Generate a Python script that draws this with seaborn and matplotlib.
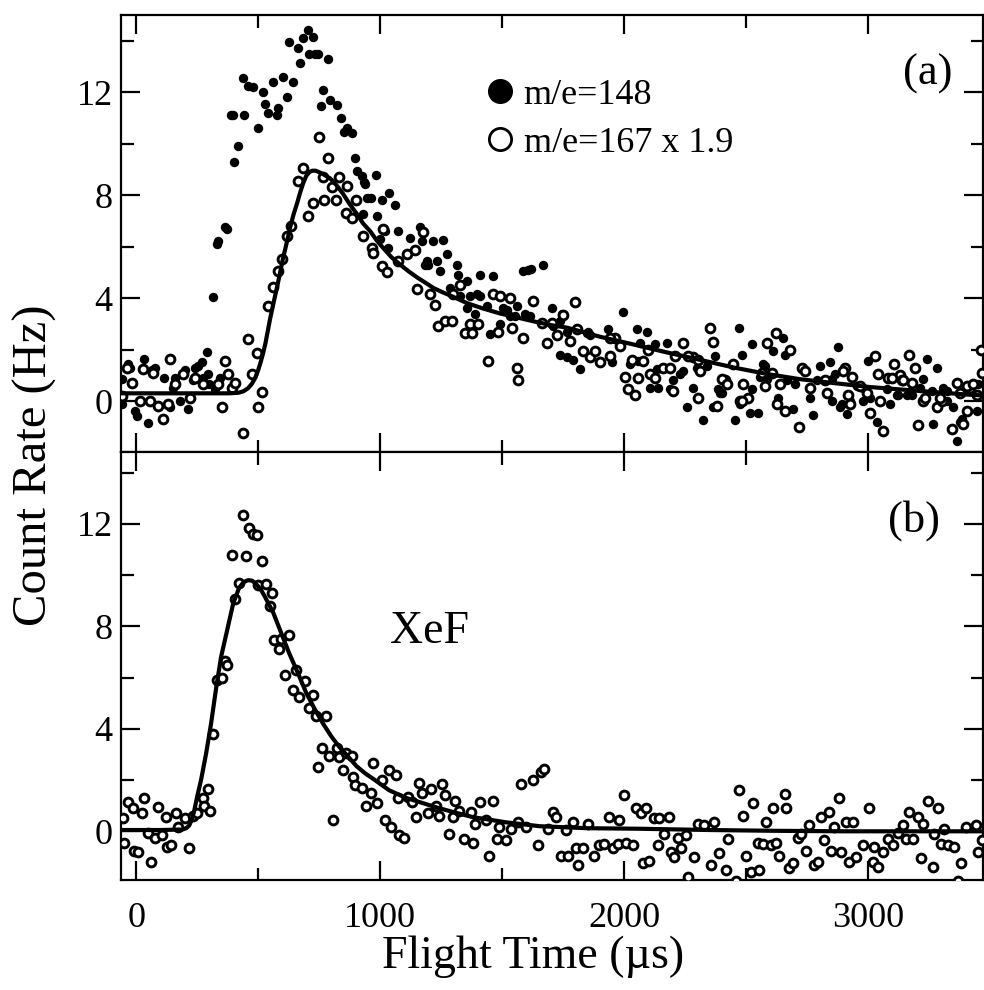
"""
Two-panel flight time spectra (XeF photodissociation), redrawn with seaborn.
"""

import matplotlib
matplotlib.use("Agg")
import matplotlib.pyplot as plt
from matplotlib.lines import Line2D
from matplotlib.ticker import MultipleLocator
import seaborn as sns

# ---- panel (a): m/e=148, filled points ----
a_filled_x = [-58, -57, -33, -25, -4, 4, 33, 49, 66, 78,
              115, 139, 152, 160, 180, 201, 213, 234, 242, 254,
              270, 275, 291, 295, 300, 316, 324, 332, 336, 344,
              365, 373, 389, 398, 402, 418, 439, 443, 459, 480,
              500, 520, 529, 541, 561, 578, 582, 602, 619, 627,
              643, 664, 672, 684, 705, 709, 725, 734, 746, 758,
              766, 787, 795, 824, 840, 852, 865, 885, 898, 906,
              926, 930, 933, 939, 947, 963, 984, 988, 1000, 1008,
              1020, 1033, 1037, 1061, 1074, 1123, 1164, 1172, 1184, 1193,
              1197, 1217, 1234, 1246, 1258, 1275, 1287, 1316, 1320, 1328,
              1357, 1357, 1369, 1389, 1398, 1410, 1410, 1439, 1451, 1463,
              1492, 1504, 1533, 1561, 1586, 1594, 1607, 1615, 1619, 1668,
              1705, 1738, 1746, 1766, 1791, 1820, 1852, 1934, 1996, 2053,
              2066, 2094, 2127, 2135, 2176, 2242, 2258, 2283, 2324, 2365,
              2385, 2393, 2455, 2470, 2484, 2516, 2525, 2549, 2570, 2611,
              2631, 2652, 2660, 2665, 2693, 2762, 2775, 2803, 2844, 2850,
              2877, 2893, 2914, 2980, 3000, 3005, 3037, 3090, 3119, 3160,
              3213, 3225, 3242, 3266, 3283, 3324, 3365, 3377, 3385, 3447,
              1520, 1553, 1709, 1738, 1766, 1848, 1861, 1902, 1951, 2025,
              2057, 2107, 2139, 2189, 2201, 2230, 2299, 2340, 2373, 2402,
              2475, 2525, 2557, 2578, 2586, 2701, 2791, 2852, 2865, 2885,
              2926, 2955, 2980, 3078, 3123, 3180, 3262, 3307, 3324, 3348,
              3418, 3451]
a_filled_y = [-0.1, 0.85, 1.45, 1.3, -0.4, -0.6, 1.65, -0.85, 1.2, 1.3,
              0.9, -0.25, 0.5, 0.9, 0.0, 1.2, -0.3, 0.8, 1.3, 1.35,
              1.5, 0.9, 1.9, 1.05, 0.65, 4.05, 0.45, 6.1, 6.2, 0.9,
              6.75, 6.7, 11.1, 11.1, 9.3, 9.9, 12.55, 11.1, 12.25, 12.2,
              10.6, 12.0, 11.55, 11.2, 12.4, 11.1, 11.4, 12.6, 11.8, 13.95,
              12.4, 13.7, 13.15, 14.1, 14.4, 13.5, 14.15, 13.5, 13.5, 11.45,
              12.1, 13.3, 11.7, 11.5, 11.0, 10.45, 10.6, 10.4, 9.45, 8.95,
              8.75, 7.25, 8.5, 8.45, 7.9, 7.9, 8.8, 7.2, 6.3, 7.8,
              6.6, 5.95, 8.1, 7.6, 6.6, 6.35, 6.75, 6.2, 5.3, 5.45,
              5.3, 6.2, 5.45, 5.05, 6.25, 5.7, 4.4, 5.3, 4.9, 4.1,
              4.65, 3.6, 4.1, 3.4, 4.15, 4.9, 4.1, 3.7, 2.6, 4.85,
              3.0, 3.6, 3.3, 3.7, 5.05, 3.4, 5.1, 3.3, 5.15, 5.3,
              3.6, 1.8, 3.4, 1.7, 1.6, 1.25, 2.7, 2.8, 3.45, 2.8,
              2.25, 2.7, 2.2, 1.25, 2.25, 1.15, -0.25, 0.5, -0.75, -0.25,
              0.45, 0.3, -0.75, 2.85, 1.8, -0.45, 2.2, -0.45, 1.45, 1.95,
              0.1, 2.45, 1.8, 0.8, -0.3, 0.1, -0.55, 1.35, 1.5, 0.0,
              2.1, -0.1, -0.5, 0.0, 1.55, 0.1, -0.8, -0.1, 0.25, 0.25,
              0.5, 0.85, 1.65, -0.9, 1.3, 0.4, -1.55, -0.8, -0.7, -0.4,
              3.55, 3.3, 2.9, 3.1, 2.7, 2.65, 2.55, 1.55, 1.5, 1.45,
              1.55, 0.5, 0.5, 0.45, 0.8, 1.05, 1.3, 1.35, 1.75, 0.3,
              -0.1, 0.45, 0.95, 1.35, 0.85, 0.65, 0.8, 0.85, 1.05, -0.25,
              0.0, 0.6, 0.5, 0.45, 0.25, 0.25, 0.4, 0.5, 0.0, -0.25,
              0.6, 0.65]

# ---- panel (a): m/e=167 x 1.9, open points ----
a_open_x = [-57, -37, -16, 16, 29, 57, 70, 90, 111, 131,
            139, 160, 193, 221, 242, 275, 336, 352, 365, 377,
            393, 406, 439, 459, 475, 496, 500, 516, 541, 561,
            582, 598, 619, 635, 664, 684, 705, 725, 750, 766,
            770, 787, 803, 820, 832, 860, 865, 885, 902, 930,
            967, 971, 1008, 1012, 1029, 1074, 1111, 1143, 1152, 1176,
            1205, 1225, 1238, 1266, 1295, 1299, 1328, 1348, 1369, 1377,
            1402, 1443, 1463, 1484, 1492, 1533, 1541, 1561, 1566, 1586,
            1627, 1684, 1750, 1799, 1807, 1902, 1963, 2004, 2016, 2045,
            2057, 2107, 2127, 2160, 2201, 2242, 2283, 2303, 2311, 2352,
            2365, 2381, 2414, 2447, 2475, 2488, 2508, 2586, 2607, 2623,
            2627, 2640, 2660, 2680, 2717, 2730, 2762, 2824, 2906, 2918,
            2926, 2996, 3008, 3029, 3041, 3061, 3082, 3107, 3131, 3139,
            3168, 3180, 3193, 3205, 3225, 3234, 3283, 3303, 3344, 3365,
            3377, 3389, 3406, 3418, 3463, 3467,
            1664, 1705, 1725, 1779, 1832, 1861, 1881, 1943, 1943, 1984,
            2033, 2078, 2098, 2189, 2209, 2262, 2303, 2402, 2422, 2484,
            2566, 2578, 2742, 2832, 2898, 2934, 2967, 3049, 3098, 3143,
            3295, 3406, 3430, 3447]
a_open_y = [0.2, 1.3, 0.7, 0.0, 1.25, 0.0, 1.1, -0.2, -0.7, -0.1,
            1.65, 0.65, 1.05, 0.1, 0.9, 0.65, 0.65, -0.25, 1.55, 1.05,
            0.5, 0.7, -1.25, 2.4, 1.05, 1.85, -0.25, 0.35, 3.7, 4.45,
            5.05, 5.5, 6.4, 6.8, 8.55, 9.05, 7.2, 7.7, 10.25, 8.7,
            7.8, 9.45, 8.3, 7.8, 8.7, 7.3, 8.35, 7.1, 7.8, 6.4,
            5.95, 5.75, 5.25, 6.7, 5.0, 5.45, 5.7, 5.85, 4.35, 6.55,
            4.15, 3.75, 2.9, 3.1, 3.1, 4.15, 4.5, 2.65, 3.0, 2.65,
            3.0, 1.55, 4.15, 2.7, 4.1, 4.0, 2.85, 1.3, 0.8, 2.45,
            3.9, 2.25, 3.35, 3.85, 2.8, 1.5, 2.45, 0.95, 0.45, 0.25,
            0.9, 1.05, 0.9, 1.3, 0.4, 2.25, 1.7, 0.1, 1.15, 2.85,
            2.3, -0.2, 0.8, 1.45, 0.0, 0.65, 0.1, 2.25, 1.1, 2.65,
            -0.1, 0.65, -0.4, 2.0, -1.0, 1.3, 0.5, 0.8, 1.3, 0.25,
            -0.1, 0.3, -0.45, 1.75, 1.05, -1.15, 0.9, 1.45, 1.0, 0.8,
            1.8, 0.7, 1.3, -0.95, 0.0, 0.1, -0.25, 0.0, -1.1, 0.7,
            0.3, -0.9, -0.4, 0.5, 2.0, 1.1,
            3.05, 3.05, 2.55, 2.35, 1.95, 1.7, 1.95, 2.45, 1.75, 2.15,
            1.6, 1.55, 2.0, 1.3, 1.75, 1.75, 1.6, 0.85, 0.65, 0.0,
            1.1, 0.6, 1.15, 0.3, 1.15, 0.95, 0.6, 0.0, 0.9, 0.8,
            0.1, 0.6, 0.65, 0.25]

# ---- panel (a): fitted curve ----
a_fit_x = [-62, 100, 250, 380, 418, 440, 459, 475, 488, 500,
           510, 520, 530, 549, 565, 578, 590, 602, 617, 631,
           645, 660, 672, 684, 697, 710, 722, 735, 748, 760,
           778, 795, 820, 848, 875, 906, 930, 959, 985, 1012,
           1045, 1082, 1115, 1152, 1185, 1217, 1250, 1287, 1357, 1420,
           1492, 1560, 1627, 1700, 1766, 1900, 2037, 2170, 2311, 2450,
           2586, 2720, 2857, 3000, 3131, 3270, 3406, 3470]
a_fit_y = [0.3, 0.3, 0.3, 0.3, 0.32, 0.38, 0.5, 0.68, 0.9, 1.2,
           1.5, 1.85, 2.25, 3.2, 3.9, 4.45, 5.0, 5.55, 6.15, 6.75,
           7.25, 7.7, 8.1, 8.45, 8.75, 8.9, 8.95, 8.95, 8.9, 8.85,
           8.75, 8.65, 8.4, 8.05, 7.65, 7.25, 6.9, 6.6, 6.25, 5.95,
           5.6, 5.3, 5.05, 4.8, 4.6, 4.4, 4.25, 4.1, 3.8, 3.6,
           3.4, 3.25, 3.1, 2.95, 2.85, 2.5, 2.2, 1.9, 1.6, 1.3,
           1.05, 0.85, 0.7, 0.55, 0.45, 0.35, 0.25, 0.22]

# ---- panel (b): XeF, open points ----
b_open_x = [-55, -49, -33, -12, -8, 8, 25, 33, 49, 61,
            78, 90, 107, 123, 127, 143, 164, 172, 201, 217,
            234, 250, 275, 279, 295, 303, 316, 332, 352, 365,
            373, 393, 406, 422, 439, 451, 463, 480, 496, 500,
            516, 533, 549, 557, 566, 586, 594, 611, 627, 643,
            656, 668, 693, 709, 725, 738, 746, 762, 779, 791,
            807, 824, 832, 848, 861, 885, 889, 898, 926, 943,
            963, 971, 988, 1008, 1020, 1037, 1045, 1066, 1074, 1078,
            1098, 1115, 1131, 1148, 1160, 1172, 1197, 1209, 1230, 1242,
            1254, 1266, 1283, 1299, 1307, 1324, 1344, 1373, 1381, 1389,
            1410, 1434, 1447, 1463, 1480, 1488, 1516, 1537, 1566, 1578,
            1598, 1627, 1648, 1660, 1672, 1689, 1709, 1721, 1742, 1762,
            1770, 1791, 1803, 1811, 1832, 1852, 1877, 1898, 1918, 1939,
            1955, 1975, 1980, 2000, 2008, 2037, 2049, 2070, 2078, 2090,
            2103, 2123, 2139, 2143, 2164, 2185, 2190, 2205, 2221, 2234,
            2254, 2262, 2287, 2303, 2328, 2357, 2369, 2389, 2418, 2426,
            2459, 2471, 2488, 2500, 2520, 2529, 2549, 2553, 2570, 2582,
            2602, 2611, 2623, 2635, 2660, 2664, 2676, 2693, 2713, 2725,
            2746, 2758, 2779, 2795, 2807, 2820, 2840, 2848, 2861, 2881,
            2889, 2910, 2922, 2939, 2951, 2980, 3004, 3020, 3025, 3041,
            3061, 3082, 3102, 3123, 3143, 3156, 3168, 3184, 3205, 3217,
            3225, 3246, 3266, 3270, 3287, 3299, 3311, 3328, 3352, 3369,
            3381, 3402, 3443, 3451, 3466]
b_open_y = [0.5, -0.45, 1.15, 0.9, -0.75, -0.8, 0.7, 1.3, -0.05, -1.2,
            -0.25, 0.95, -0.15, 0.55, -0.6, -0.55, 0.7, 0.15, 0.5, -0.65,
            0.6, 0.7, 1.3, 1.0, 1.65, 0.8, 3.8, 5.9, 6.0, 6.65,
            6.5, 10.8, 9.05, 9.7, 12.35, 10.75, 11.85, 11.6, 11.55, 9.6,
            10.55, 9.65, 8.8, 9.3, 7.45, 7.1, 7.5, 6.1, 7.65, 5.5,
            6.3, 5.25, 5.85, 4.8, 5.3, 4.5, 2.5, 3.25, 4.5, 2.95,
            0.45, 3.25, 2.9, 2.4, 3.05, 2.95, 2.1, 1.8, 1.7, 1.0,
            1.5, 2.65, 1.1, 2.0, 0.45, 2.4, 0.15, 2.2, 1.3, -0.15,
            -0.25, 1.35, 1.15, 0.55, 1.9, 1.5, 0.7, 1.65, 1.0, 0.6,
            1.85, 1.4, -0.1, 0.55, 1.2, 0.8, -0.3, 0.75, -0.45, 0.3,
            1.15, 0.45, -0.95, 1.2, -0.3, 0.15, -0.35, 0.1, 0.35, 1.85,
            0.15, 2.0, -0.55, 2.3, 2.45, 0.1, 0.75, 0.55, -0.95, 0.05,
            -0.95, 0.35, -0.65, -1.3, -0.65, 0.3, -0.95, -0.55, -0.5, 0.55,
            -0.65, -0.5, 0.45, 1.4, -0.45, -0.55, 0.9, 0.7, -1.25, 0.9,
            -1.15, 0.5, -0.55, 0.5, -0.1, 0.55, -0.8, -1.0, -0.25, -0.65,
            -0.15, -1.8, -1.0, 0.3, 0.25, -1.3, 0.35, -0.85, -1.5, -0.3,
            -1.95, 1.6, 0.6, -0.95, -1.6, 1.1, -0.45, -1.5, -0.5, 0.35,
            -0.55, 0.9, -0.45, -0.95, 1.45, 0.9, -1.45, -1.25, -0.25, -0.1,
            -0.75, 0.25, -1.3, -1.2, 0.55, -0.35, 0.75, -0.75, 0.15, 1.3,
            -0.8, 0.35, -1.2, 0.35, -1.0, -0.55, 0.9, -1.2, -0.6, -1.4,
            -0.8, -0.3, -0.55, -0.05, 0.25, -0.3, 0.75, -0.3, 0.55, -1.05,
            0.3, 1.2, -1.4, -0.1, 0.9, -0.5, 0.1, -0.55, -0.6, -1.95,
            -1.25, 0.15, 0.25, -0.8, -0.35]

# ---- panel (b): fitted curve ----
b_fit_x = [-62, 100, 190, 205, 217, 228, 238, 250, 266, 287,
           307, 328, 348, 373, 398, 422, 440, 459, 475, 492,
           510, 525, 561, 594, 627, 664, 697, 730, 766, 800,
           832, 870, 902, 940, 971, 1037, 1107, 1175, 1242, 1320,
           1381, 1450, 1516, 1652, 1850, 2061, 2350, 2611, 2900, 3156,
           3470]
b_fit_y = [0.05, 0.05, 0.07, 0.12, 0.22, 0.45, 0.8, 1.35, 2.0, 3.05,
           4.2, 5.6, 6.8, 7.85, 8.9, 9.5, 9.72, 9.8, 9.78, 9.65,
           9.45, 9.2, 8.55, 7.75, 6.95, 6.15, 5.4, 4.8, 4.2, 3.7,
           3.3, 2.9, 2.55, 2.25, 2.05, 1.6, 1.3, 1.1, 0.9, 0.7,
           0.55, 0.45, 0.35, 0.2, 0.12, 0.1, 0.05, 0.02, 0.0, 0.0,
           0.0]

legend_labels = ['m/e=148', 'm/e=167 x 1.9']

sns.set_theme(style="ticks")
plt.rcParams['font.family'] = ['Liberation Serif', 'DejaVu Serif']
plt.rcParams['text.color'] = 'black'
plt.rcParams['axes.labelcolor'] = 'black'


def style_panel(ax, ylim):
    """Inward ticks on all four sides, thick black frame."""
    ax.set_xlim(-62, 3470)
    ax.set_ylim(*ylim)
    ax.xaxis.set_major_locator(MultipleLocator(1000))
    ax.xaxis.set_minor_locator(MultipleLocator(500))
    ax.yaxis.set_major_locator(MultipleLocator(4))
    ax.yaxis.set_minor_locator(MultipleLocator(2))
    ax.tick_params(which='both', direction='in', top=True, right=True,
                   width=1.6, color='black', labelsize=26, labelcolor='black')
    ax.tick_params(which='major', length=14)
    ax.tick_params(which='minor', length=9)
    ax.tick_params(axis='y', pad=6)
    ax.tick_params(axis='x', pad=16)
    for sp in ax.spines.values():
        sp.set_linewidth(1.6)
        sp.set_color('black')
    ax.set_xlabel('')
    ax.set_ylabel('')


fig = plt.figure(figsize=(9.84, 9.90), dpi=100)
ax_a = fig.add_axes([121 / 984, 1 - 452 / 990, 862 / 984, 437 / 990])
ax_b = fig.add_axes([121 / 984, 1 - 880 / 990, 862 / 984, 428 / 990])

# panel (a)
sns.scatterplot(x=a_filled_x, y=a_filled_y, ax=ax_a, marker='o', s=46,
                color='black', linewidth=0, zorder=3)
sns.scatterplot(x=a_open_x, y=a_open_y, ax=ax_a, marker='o', s=40,
                color='white', edgecolor='black', linewidth=2.1, zorder=4)
sns.lineplot(x=a_fit_x, y=a_fit_y, ax=ax_a, color='black', linewidth=3.0,
             estimator=None, zorder=5)
style_panel(ax_a, (-1.98, 15.0))
ax_a.tick_params(labelbottom=False)

handles = [Line2D([], [], marker='o', linestyle='none', markersize=17,
                  markerfacecolor='black', markeredgecolor='black'),
           Line2D([], [], marker='o', linestyle='none', markersize=16,
                  markerfacecolor='white', markeredgecolor='black', markeredgewidth=2.0)]
ax_a.legend(handles, legend_labels, loc='center left', bbox_to_anchor=(0.419, 0.762),
            frameon=False, fontsize=26, handlelength=1.0, handletextpad=0.15,
            borderpad=0, borderaxespad=0, labelspacing=0.4)
ax_a.text(0.936, 0.842, '(a)', transform=ax_a.transAxes, ha='center',
          va='baseline', fontsize=32)

# panel (b)
sns.scatterplot(x=b_open_x, y=b_open_y, ax=ax_b, marker='o', s=40,
                color='white', edgecolor='black', linewidth=2.1, zorder=4)
sns.lineplot(x=b_fit_x, y=b_fit_y, ax=ax_b, color='black', linewidth=3.0,
             estimator=None, zorder=5)
style_panel(ax_b, (-1.9, 14.8))
ax_b.text(0.920, 0.815, '(b)', transform=ax_b.transAxes, ha='center',
          va='baseline', fontsize=32)
ax_b.text(0.358, 0.554, 'XeF', transform=ax_b.transAxes, ha='center',
          va='baseline', fontsize=33)

fig.text(0.542, 1 - 968 / 990, 'Flight Time (µs)', ha='center', va='baseline', fontsize=33)
fig.text(35 / 984, 0.530, 'Count Rate (Hz)', rotation=90, ha='center', va='center', fontsize=35)

fig.savefig('out.png', dpi=100)
